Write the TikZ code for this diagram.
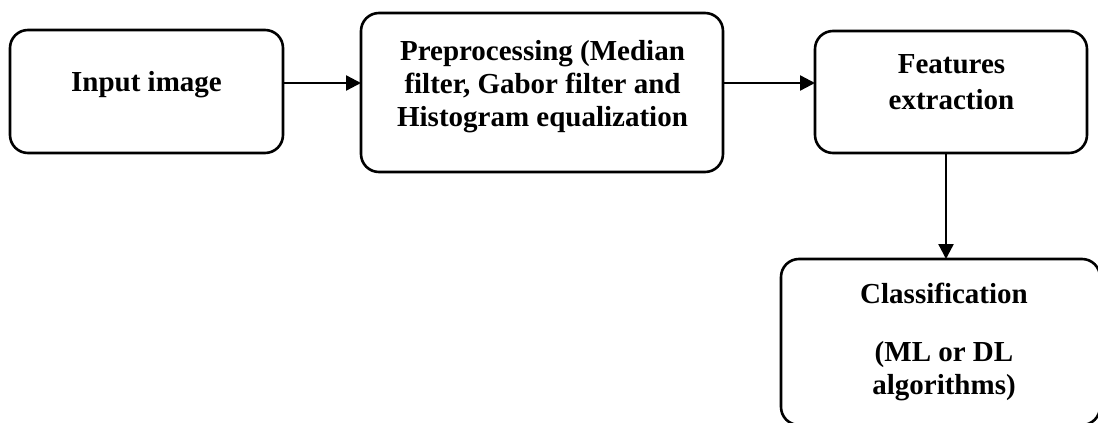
\documentclass[tikz,border=0pt]{standalone}
\usepackage{fontspec}
\setmainfont{Liberation Serif}
\usetikzlibrary{arrows.meta,calc}

\begin{document}
\begin{tikzpicture}[x=1pt,y=-1pt,
  stage/.style={draw=black, line width=2.6pt, rounded corners=18pt,
    rectangle, inner sep=0pt, outer sep=0pt},
  caption/.style={align=center, inner sep=0pt,
    font=\bfseries\fontsize{29}{33}\selectfont},
  flow/.style={draw=black, line width=2.4pt,
    -{Triangle[length=15pt,width=15pt]}}]

  \useasboundingbox[fill=white] (0,0) rectangle (1098,423);

  % stage frames
  \node[stage, minimum width=273pt, minimum height=123pt] (input) at (146.5,91.5) {};
  \node[stage, minimum width=362pt, minimum height=159pt] (prep)  at (542,92.5) {};
  \node[stage, minimum width=272pt, minimum height=122pt] (feat)  at (951,92) {};
  \node[stage, minimum width=319pt, minimum height=166pt] (cls)   at (940.5,342) {};

  % stage captions
  \node[caption] (input-t) at (146.5,84.2) {Input image};
  \node[caption] (prep-t) at (542.5,86.2)
    {Preprocessing (Median\\filter, Gabor filter and\\Histogram equalization};
  \node[caption, font=\bfseries\fontsize{29}{36}\selectfont] (feat-t) at (951.5,82.5)
    {Features\\extraction};
  \node[caption] (cls-t) at (944,341.7)
    {Classification\\[25pt](ML or DL\\algorithms)};

  % connector row and column
  \coordinate (row) at (0,83);
  \coordinate (col) at (946,0);

  \draw[flow] (input.east |- row) -- (prep.west |- row);
  \draw[flow] (prep.east |- row) -- (feat.west |- row);
  \draw[flow] (feat.south -| col) -- (cls.north -| col);
\end{tikzpicture}
\end{document}
